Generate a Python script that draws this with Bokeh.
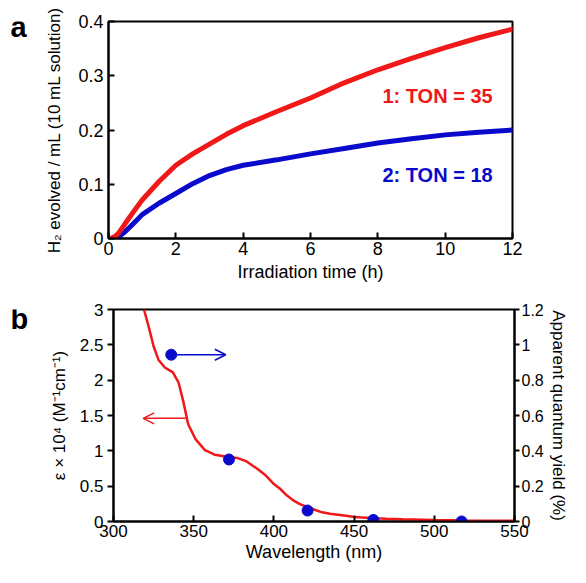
from bokeh.plotting import figure
from bokeh.layouts import column, row
from bokeh.models import (FixedTicker, Range1d, LinearAxis, Label, Arrow, OpenHead)
from bokeh.core.properties import value
from bokeh.embed import file_html
from bokeh.resources import INLINE

FONT = "Liberation Sans"

# ---------------- Panel a data ----------------
time_h = [0, 0.1, 0.2, 0.3, 0.5, 0.75, 1, 1.5, 2, 2.5, 3, 3.5, 4, 5, 6, 7, 8, 9, 10, 11, 12]
h2_cat1 = [0, 0.001, 0.004, 0.010, 0.028, 0.050, 0.071, 0.105, 0.135, 0.156, 0.174, 0.192,
           0.208, 0.234, 0.259, 0.287, 0.311, 0.332, 0.352, 0.370, 0.386]
h2_cat2 = [0, 0.0, 0.001, 0.003, 0.013, 0.028, 0.044, 0.065, 0.083, 0.101, 0.116, 0.127,
           0.135, 0.145, 0.156, 0.166, 0.176, 0.184, 0.191, 0.196, 0.200]
ton_labels = ["1: TON = 35", "2: TON = 18"]
panel_letters = ["a", "b"]
xa_ticks = [0, 2, 4, 6, 8, 10, 12]
ya_ticks = [0, 0.1, 0.2, 0.3, 0.4]
ya_tick_labels = ["0", "0.1", "0.2", "0.3", "0.4"]

# ---------------- Panel b data ----------------
wavelength = [319, 322, 325, 328, 332, 337, 340.5, 343.5, 346.5, 351, 357, 363, 370, 377, 383,
              390, 395, 400, 404, 408, 412, 416, 420, 425, 430, 435, 440, 445, 450, 460, 470,
              480, 500, 520, 550]
epsilon = [3.0, 2.75, 2.48, 2.29, 2.18, 2.11, 1.97, 1.70, 1.38, 1.17, 1.01, 0.945, 0.92, 0.90,
           0.85, 0.74, 0.65, 0.53, 0.46, 0.37, 0.30, 0.25, 0.21, 0.17, 0.13, 0.11, 0.095, 0.08,
           0.065, 0.05, 0.04, 0.033, 0.022, 0.015, 0.01]
aqy_wavelength = [336, 372, 421, 462, 517]
aqy_percent = [0.944, 0.351, 0.062, 0.009, 0.0]
xb_ticks = [300, 350, 400, 450, 500, 550]
yb_ticks = [0, 0.5, 1, 1.5, 2, 2.5, 3]
yb_tick_labels = ["0", "0.5", "1", "1.5", "2", "2.5", "3"]
yr_ticks = [0, 0.2, 0.4, 0.6, 0.8, 1.0, 1.2]
yr_tick_labels = ["0", "0.2", "0.4", "0.6", "0.8", "1", "1.2"]

RED = "#f01818"
BLUE = "#0a0acc"
LW = 30  # width of the letter strip
W = 570


def style_axis(ax, tick_in, tick_out, size="18px", lsize="17px"):
    ax.axis_line_width = 2
    ax.axis_line_color = "black"
    ax.major_tick_line_width = 2
    ax.major_tick_line_color = "black"
    ax.major_tick_in = tick_in
    ax.major_tick_out = tick_out
    ax.minor_tick_line_color = None
    ax.major_label_text_font = FONT
    ax.major_label_text_font_size = size
    ax.major_label_text_color = "black"
    ax.axis_label_text_font = FONT
    ax.axis_label_text_font_size = lsize
    ax.axis_label_text_font_style = "normal"
    ax.axis_label_text_color = "black"


def letter_fig(letter, h, baseline):
    f = figure(width=LW, height=h, output_backend="svg", toolbar_location=None,
               title=None, x_axis_type=None, y_axis_type=None,
               x_range=Range1d(0, LW), y_range=Range1d(h, 0),
               min_border=0, min_border_top=0, min_border_bottom=0,
               min_border_left=0, min_border_right=0, outline_line_color=None)
    f.grid.visible = False
    f.text(x=[10], y=[baseline], text=[letter], text_font=value(FONT), text_font_size="29px",
           text_font_style="bold", text_color="black", text_baseline="alphabetic")
    return f


HA = 284
HB = 281

# ---------------- Panel a ----------------
pa = figure(width=W - LW, height=HA, output_backend="svg", toolbar_location=None, title=None,
            x_range=Range1d(0, 12), y_range=Range1d(0, 0.4),
            min_border_left=108 - LW, min_border_right=58, min_border_top=21,
            min_border_bottom=HA - 21 - 217)
pa.grid.visible = False
pa.outline_line_color = "black"
pa.outline_line_width = 2
pa.outline_line_alpha = 1

pa.line(time_h, h2_cat2, line_color=BLUE, line_width=5, line_cap="round")
pa.line(time_h, h2_cat1, line_color=RED, line_width=5, line_cap="round")

xa = pa.xaxis[0]
ya = pa.yaxis[0]
style_axis(xa, 6, 0, "18px", "18px")
style_axis(ya, 6, 0, "18px", "17px")
xa.ticker = FixedTicker(ticks=xa_ticks)
ya.ticker = FixedTicker(ticks=ya_ticks)
ya.major_label_overrides = {t: l for t, l in zip(ya_ticks, ya_tick_labels)}
xa.axis_label = "Irradiation time (h)"
ya.axis_label = "H\u2082 evolved / mL (10 mL solution)"
xa.major_label_standoff = 3
xa.axis_label_standoff = 4
ya.major_label_standoff = 5
ya.axis_label_standoff = 11

pa.add_layout(Label(x=11.41, y=0.263, text=ton_labels[0], text_align="right",
                    text_baseline="middle", text_font=FONT, text_font_size="20px",
                    text_font_style="bold", text_color=RED))
pa.add_layout(Label(x=11.41, y=0.117, text=ton_labels[1], text_align="right",
                    text_baseline="middle", text_font=FONT, text_font_size="20px",
                    text_font_style="bold", text_color=BLUE))

# ---------------- Panel b ----------------
pb = figure(width=W - LW, height=HB, output_backend="svg", toolbar_location=None, title=None,
            x_range=Range1d(300, 550), y_range=Range1d(0, 3),
            min_border_left=113 - LW, min_border_right=54, min_border_top=25,
            min_border_bottom=HB - 25 - 212)
pb.grid.visible = False
pb.outline_line_color = "black"
pb.outline_line_width = 2
pb.outline_line_alpha = 1
pb.extra_y_ranges = {"aqy": Range1d(0, 1.2)}

pb.line(wavelength, epsilon, line_color=RED, line_width=2.5)
pb.scatter(aqy_wavelength, aqy_percent, y_range_name="aqy", size=11,
           fill_color=BLUE, line_color=BLUE)

xb = pb.xaxis[0]
yb = pb.yaxis[0]
style_axis(xb, 6, 0, "17px", "18px")
style_axis(yb, 0, 6, "17px", "17px")
xb.ticker = FixedTicker(ticks=xb_ticks)
yb.ticker = FixedTicker(ticks=yb_ticks)
yb.major_label_overrides = {t: l for t, l in zip(yb_ticks, yb_tick_labels)}
xb.axis_label = "Wavelength (nm)"
yb.axis_label = "\u03b5 \u00d7 10\u2074 (M\u207b\u00b9cm\u207b\u00b9)"
xb.major_label_standoff = 3
xb.axis_label_standoff = 2
yb.major_label_standoff = 4
yb.axis_label_standoff = 8

yr = LinearAxis(y_range_name="aqy")
style_axis(yr, 0, 5, "16px", "17px")
yr.ticker = FixedTicker(ticks=yr_ticks)
yr.major_label_overrides = {t: l for t, l in zip(yr_ticks, yr_tick_labels)}
yr.axis_label = "Apparent quantum yield (%)"
yr.major_label_standoff = 2
yr.axis_label_standoff = 2
pb.add_layout(yr, "right")

# arrows (annotation positions)
scale = 3 / 1.2
pb.add_layout(Arrow(end=OpenHead(size=11, line_color=BLUE, line_width=1.5),
                    x_start=aqy_wavelength[0], y_start=aqy_percent[0] * scale,
                    x_end=370, y_end=aqy_percent[0] * scale,
                    line_color=BLUE, line_width=1.5))
pb.add_layout(Arrow(end=OpenHead(size=11, line_color=RED, line_width=1.5),
                    x_start=345, y_start=1.46, x_end=318.5, y_end=1.46,
                    line_color=RED, line_width=1.5))

layout = column(row(letter_fig(panel_letters[0], HA, 7), pa, spacing=0),
                row(letter_fig(panel_letters[1], HB, 12), pb, spacing=0), spacing=0)
open("out.html", "w").write(file_html(layout, INLINE))
